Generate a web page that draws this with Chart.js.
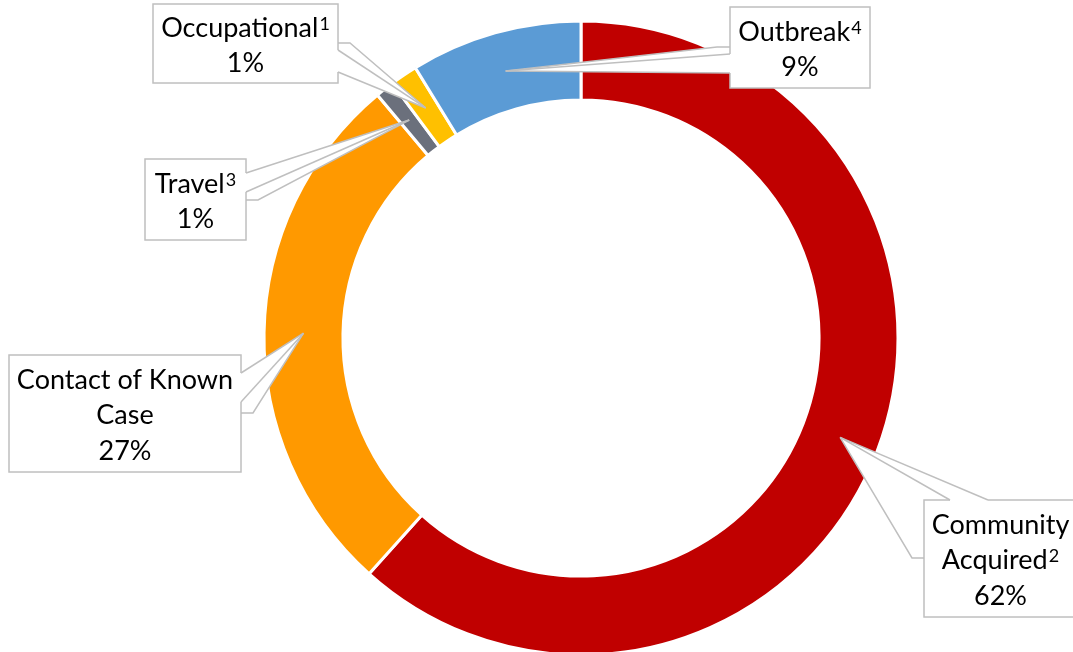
<!DOCTYPE html>
<html>
<head>
<meta charset="utf-8">
<script src="https://cdn.jsdelivr.net/npm/chart.js@4.4.0/dist/chart.umd.min.js"></script>
<style>
  html, body { margin: 0; padding: 0; background: #fff; }
  #wrap { width: 1073px; height: 652px; }
</style>
</head>
<body>
<div id="wrap"><canvas id="chart" width="1073" height="652"></canvas></div>
<script>
const categories = ['Community Acquired', 'Contact of Known Case', 'Travel', 'Occupational', 'Outbreak'];
const footnotes = ['2', '', '3', '1', '4'];
const shares = [61.65, 27.25, 0.95, 1.4, 8.75];
const colors = ['#C00000', '#FF9900', '#6B707C', '#FFC000', '#5B9BD5'];

// callout boxes [x, y, w, h], the legs of the wedge (each runs on to the slice centre)
// and the part of the box edge left open where the wedge leaves it
const callouts = [
  { box: [924, 500, 153, 117], legs: [[[988, 500]], [[950, 500]], [[924, 558], [912, 558]]], gap: [[950, 500], [988, 500]] },
  { box: [9, 355, 232, 117], legs: [[[241, 373]], [[241, 402]], [[241, 413], [253, 413]]], gap: [[241, 373], [241, 402]] },
  { box: [145, 159, 101, 81], legs: [[[246, 173]], [[246, 192]], [[246, 200], [258, 200]]], gap: [[246, 173], [246, 192]] },
  { box: [153, 4, 185, 79], legs: [[[338, 43], [350, 43]], [[338, 50]], [[338, 72]]], gap: [[338, 50], [338, 72]] },
  { box: [730, 7, 140, 81], legs: [[[730, 47], [717, 47]], [[730, 54]], [[730, 73]]], gap: [[730, 54], [730, 73]] }
];

const FONT = 'Lato, "Noto Sans", sans-serif';
const MAIN_SIZE = 27;
const SUP_SIZE = 18;
const LINE_H = 35.4;
const CAP_H = 19.5;

function wrapLabel(ctx, i, maxW) {
  const words = categories[i].split(' ');
  const sup = footnotes[i];
  ctx.font = SUP_SIZE + 'px ' + FONT;
  const supW = sup ? ctx.measureText(sup).width + 1 : 0;
  ctx.font = MAIN_SIZE + 'px ' + FONT;
  const lines = [];
  let cur = '';
  words.forEach((w, j) => {
    const test = cur ? cur + ' ' + w : w;
    const extra = j === words.length - 1 ? supW : 0;
    if (cur && ctx.measureText(test).width + extra > maxW) {
      lines.push({ text: cur, sup: '' });
      cur = w;
    } else {
      cur = test;
    }
  });
  lines.push({ text: cur, sup: sup });
  lines.push({ text: Math.round(shares[i]) + '%', sup: '' });
  return lines;
}

function drawLabel(ctx, i, cx, cy, maxW) {
  const lines = wrapLabel(ctx, i, maxW);
  const n = lines.length;
  ctx.fillStyle = '#000';
  ctx.textAlign = 'left';
  ctx.textBaseline = 'alphabetic';
  lines.forEach((ln, k) => {
    const base = cy + (k - (n - 1) / 2) * LINE_H + CAP_H / 2 + 1;
    ctx.font = MAIN_SIZE + 'px ' + FONT;
    const mw = ctx.measureText(ln.text).width;
    ctx.font = SUP_SIZE + 'px ' + FONT;
    const sw = ln.sup ? ctx.measureText(ln.sup).width + 1 : 0;
    const x0 = cx - (mw + sw) / 2;
    ctx.font = MAIN_SIZE + 'px ' + FONT;
    ctx.fillText(ln.text, x0, base);
    if (ln.sup) {
      ctx.font = SUP_SIZE + 'px ' + FONT;
      ctx.fillText(ln.sup, x0 + mw + 1, base - 7);
    }
  });
}

function tracePath(ctx, pts) {
  pts.forEach(([x, y], k) => k ? ctx.lineTo(x, y) : ctx.moveTo(x, y));
}

const calloutPlugin = {
  id: 'callouts',
  afterDatasetsDraw(chart) {
    const ctx = chart.ctx;
    const arcs = chart.getDatasetMeta(0).data;
    ctx.save();
    callouts.forEach((c, i) => {
      const tip = arcs[i].getCenterPoint();
      const [bx, by, bw, bh] = c.box;
      const first = c.legs[0];
      const last = c.legs[c.legs.length - 1];

      // white wedge and box
      ctx.beginPath();
      tracePath(ctx, first);
      ctx.lineTo(tip.x, tip.y);
      last.slice().reverse().forEach(([x, y]) => ctx.lineTo(x, y));
      ctx.closePath();
      ctx.fillStyle = '#fff';
      ctx.fill();
      ctx.fillRect(bx, by, bw, bh);

      ctx.strokeStyle = '#BFBFBF';
      ctx.lineWidth = 1.5;
      ctx.strokeRect(bx, by, bw, bh);

      // open the box edge where the wedge comes out
      ctx.beginPath();
      tracePath(ctx, c.gap);
      ctx.strokeStyle = '#fff';
      ctx.lineWidth = 2.5;
      ctx.stroke();

      ctx.strokeStyle = '#BFBFBF';
      ctx.lineWidth = 1.5;
      c.legs.forEach(leg => {
        ctx.beginPath();
        tracePath(ctx, leg);
        ctx.lineTo(tip.x, tip.y);
        ctx.stroke();
      });

      drawLabel(ctx, i, bx + bw / 2, by + bh / 2, bw - 14);
    });
    ctx.restore();
  }
};

const chart = new Chart(document.getElementById('chart'), {
  type: 'doughnut',
  data: {
    labels: categories,
    datasets: [{
      data: shares,
      backgroundColor: colors,
      borderColor: '#ffffff',
      borderWidth: 3,
      clip: false
    }]
  },
  options: {
    responsive: false,
    animation: false,
    devicePixelRatio: 1,
    events: [],
    radius: 317,
    cutout: '75.1%',
    layout: { padding: { left: 89, right: 0, top: 24, bottom: 0 } },
    plugins: {
      legend: { display: false },
      tooltip: { enabled: false }
    }
  },
  plugins: [calloutPlugin]
});
</script>
</body>
</html>
